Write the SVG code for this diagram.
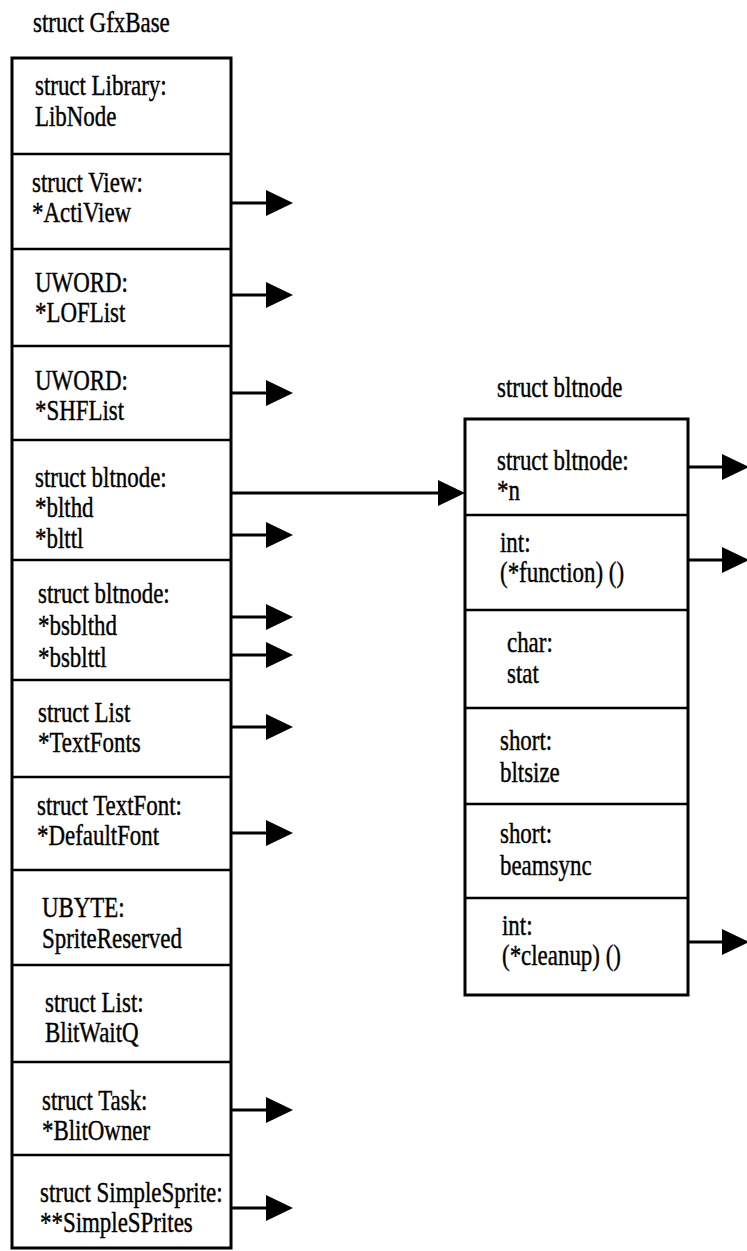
<svg xmlns="http://www.w3.org/2000/svg" width="747" height="1251" viewBox="0 0 747 1251">
<style>
.t{font-family:"Liberation Serif","Times New Roman",serif;font-size:29px;fill:#000;stroke:#000;stroke-width:0.4}
.box{fill:none;stroke:#000;stroke-width:3}
.div{stroke:#000;stroke-width:2.5}
.c{stroke:#000;stroke-width:3;fill:none}
</style>
<defs>
<marker id="ah" markerUnits="userSpaceOnUse" markerWidth="27" markerHeight="26" viewBox="0 0 27 26" refX="0" refY="13" orient="auto" overflow="visible">
<path d="M0,0 L27,13 L0,26 Z" fill="#000"/>
</marker>
</defs>
<rect width="747" height="1251" fill="#fff"/>

<g id="gfxbase">
<text class="t" transform="translate(33 32) scale(0.79 1)">struct GfxBase</text>
<rect class="box" x="12" y="58" width="219" height="1190"/>
<line class="div" x1="12" y1="154" x2="231" y2="154"/>
<line class="div" x1="12" y1="249" x2="231" y2="249"/>
<line class="div" x1="12" y1="346" x2="231" y2="346"/>
<line class="div" x1="12" y1="440" x2="231" y2="440"/>
<line class="div" x1="12" y1="560" x2="231" y2="560"/>
<line class="div" x1="12" y1="680" x2="231" y2="680"/>
<line class="div" x1="12" y1="777" x2="231" y2="777"/>
<line class="div" x1="12" y1="870" x2="231" y2="870"/>
<line class="div" x1="12" y1="965" x2="231" y2="965"/>
<line class="div" x1="12" y1="1062" x2="231" y2="1062"/>
<line class="div" x1="12" y1="1155" x2="231" y2="1155"/>
<g id="f-library">
<text class="t" transform="translate(35 95) scale(0.79 1)">struct Library:</text>
<text class="t" transform="translate(35 126) scale(0.79 1)">LibNode</text>
</g>
<g id="f-actiview">
<text class="t" transform="translate(32 192) scale(0.79 1)">struct View:</text>
<text class="t" transform="translate(32 222) scale(0.79 1)">*ActiView</text>
</g>
<g id="f-loflist">
<text class="t" transform="translate(35 292) scale(0.79 1)">UWORD:</text>
<text class="t" transform="translate(35 322) scale(0.79 1)">*LOFList</text>
</g>
<g id="f-shflist">
<text class="t" transform="translate(35 390) scale(0.79 1)">UWORD:</text>
<text class="t" transform="translate(35 420) scale(0.79 1)">*SHFList</text>
</g>
<g id="f-blthd">
<text class="t" transform="translate(35 487) scale(0.79 1)">struct bltnode:</text>
<text class="t" transform="translate(35 517) scale(0.79 1)">*blthd</text>
<text class="t" transform="translate(35 548) scale(0.79 1)">*blttl</text>
</g>
<g id="f-bsblthd">
<text class="t" transform="translate(38 603) scale(0.79 1)">struct bltnode:</text>
<text class="t" transform="translate(38 635) scale(0.79 1)">*bsblthd</text>
<text class="t" transform="translate(38 667) scale(0.79 1)">*bsblttl</text>
</g>
<g id="f-textfonts">
<text class="t" transform="translate(38 722) scale(0.79 1)">struct List</text>
<text class="t" transform="translate(38 752) scale(0.79 1)">*TextFonts</text>
</g>
<g id="f-defaultfont">
<text class="t" transform="translate(37 815) scale(0.79 1)">struct TextFont:</text>
<text class="t" transform="translate(37 845) scale(0.79 1)">*DefaultFont</text>
</g>
<g id="f-spritereserved">
<text class="t" transform="translate(42 917) scale(0.79 1)">UBYTE:</text>
<text class="t" transform="translate(42 948) scale(0.79 1)">SpriteReserved</text>
</g>
<g id="f-blitwaitq">
<text class="t" transform="translate(45 1012) scale(0.79 1)">struct List:</text>
<text class="t" transform="translate(45 1042) scale(0.79 1)">BlitWaitQ</text>
</g>
<g id="f-blitowner">
<text class="t" transform="translate(42 1110) scale(0.79 1)">struct Task:</text>
<text class="t" transform="translate(42 1140) scale(0.79 1)">*BlitOwner</text>
</g>
<g id="f-simplesprites">
<text class="t" transform="translate(40 1202) scale(0.79 1)">struct SimpleSprite:</text>
<text class="t" transform="translate(40 1232) scale(0.79 1)">**SimpleSPrites</text>
</g>
</g>

<g id="bltnode">
<text class="t" transform="translate(497 397) scale(0.79 1)">struct bltnode</text>
<rect class="box" x="465" y="419" width="223" height="576"/>
<line class="div" x1="465" y1="515" x2="688" y2="515"/>
<line class="div" x1="465" y1="610" x2="688" y2="610"/>
<line class="div" x1="465" y1="708" x2="688" y2="708"/>
<line class="div" x1="465" y1="804" x2="688" y2="804"/>
<line class="div" x1="465" y1="898" x2="688" y2="898"/>
<g id="b-n">
<text class="t" transform="translate(497 470) scale(0.79 1)">struct bltnode:</text>
<text class="t" transform="translate(497 500) scale(0.79 1)">*n</text>
</g>
<g id="b-function">
<text class="t" transform="translate(500 552) scale(0.79 1)">int:</text>
<text class="t" transform="translate(500 582) scale(0.79 1)">(*function) ()</text>
</g>
<g id="b-stat">
<text class="t" transform="translate(507 652) scale(0.79 1)">char:</text>
<text class="t" transform="translate(507 683) scale(0.79 1)">stat</text>
</g>
<g id="b-bltsize">
<text class="t" transform="translate(500 750) scale(0.79 1)">short:</text>
<text class="t" transform="translate(500 782) scale(0.79 1)">bltsize</text>
</g>
<g id="b-beamsync">
<text class="t" transform="translate(500 843) scale(0.79 1)">short:</text>
<text class="t" transform="translate(500 875) scale(0.79 1)">beamsync</text>
</g>
<g id="b-cleanup">
<text class="t" transform="translate(502 935) scale(0.79 1)">int:</text>
<text class="t" transform="translate(502 965) scale(0.79 1)">(*cleanup) ()</text>
</g>
</g>

<g id="connectors">
<line class="c" x1="231" y1="203" x2="266" y2="203" marker-end="url(#ah)"/>
<line class="c" x1="231" y1="295" x2="266" y2="295" marker-end="url(#ah)"/>
<line class="c" x1="231" y1="393" x2="266" y2="393" marker-end="url(#ah)"/>
<line class="c" x1="231" y1="493" x2="438" y2="493" marker-end="url(#ah)"/>
<line class="c" x1="231" y1="535" x2="266" y2="535" marker-end="url(#ah)"/>
<line class="c" x1="231" y1="617" x2="266" y2="617" marker-end="url(#ah)"/>
<line class="c" x1="231" y1="655" x2="266" y2="655" marker-end="url(#ah)"/>
<line class="c" x1="231" y1="727" x2="266" y2="727" marker-end="url(#ah)"/>
<line class="c" x1="231" y1="833" x2="266" y2="833" marker-end="url(#ah)"/>
<line class="c" x1="231" y1="1110" x2="266" y2="1110" marker-end="url(#ah)"/>
<line class="c" x1="231" y1="1208" x2="266" y2="1208" marker-end="url(#ah)"/>
<line class="c" x1="688" y1="467" x2="722" y2="467" marker-end="url(#ah)"/>
<line class="c" x1="688" y1="560" x2="722" y2="560" marker-end="url(#ah)"/>
<line class="c" x1="688" y1="942" x2="722" y2="942" marker-end="url(#ah)"/>
</g>
</svg>
